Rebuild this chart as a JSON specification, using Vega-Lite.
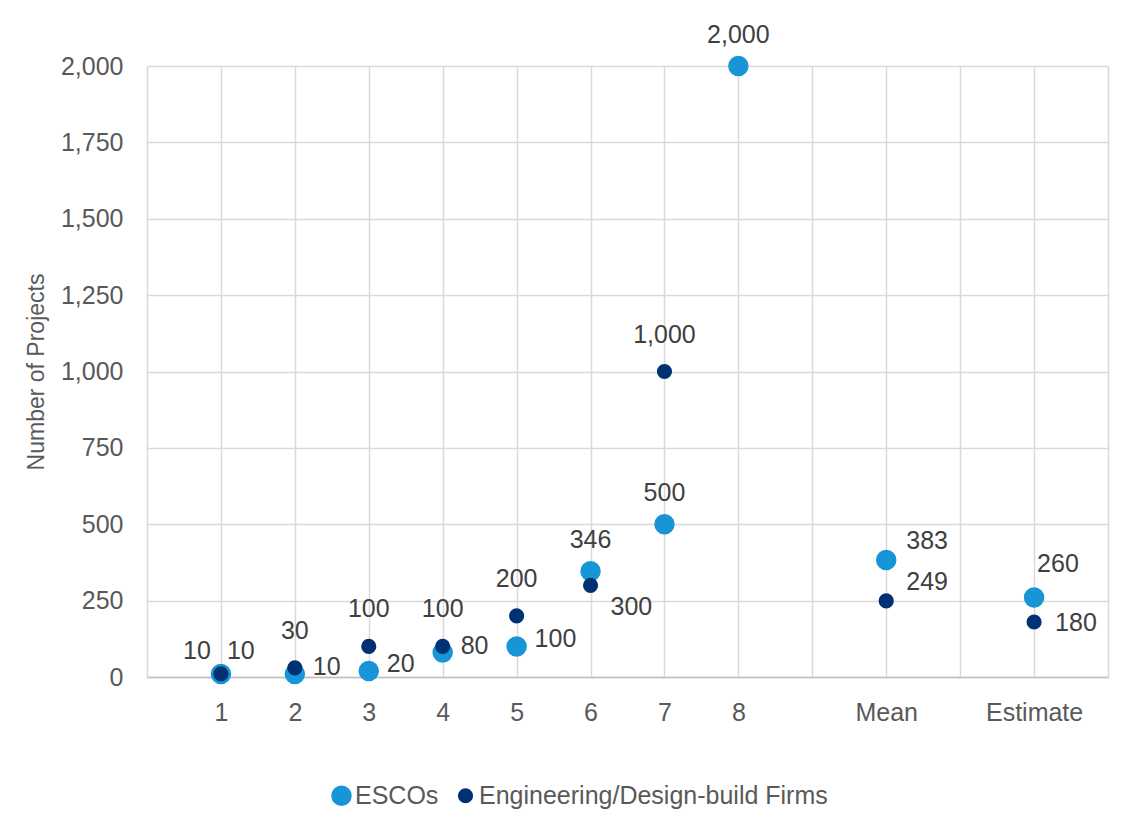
{
  "$schema": "https://vega.github.io/schema/vega-lite/v6.json",
  "width": 961,
  "height": 611,
  "autosize": "none",
  "padding": {"left": 147, "top": 66, "right": 29, "bottom": 150},
  "background": "white",
  "config": {
    "font": "Liberation Sans",
    "view": {"stroke": null},
    "axis": {"gridColor": "#d9d9d9", "gridWidth": 1.5, "labelColor": "#595959", "labelFontSize": 25, "titleColor": "#595959", "titleFontWeight": "normal", "ticks": false}
  },
  "data": {
    "values": [
      {"category": "1", "series": "ESCOs", "value": 10},
      {"category": "2", "series": "ESCOs", "value": 10},
      {"category": "3", "series": "ESCOs", "value": 20},
      {"category": "4", "series": "ESCOs", "value": 80},
      {"category": "5", "series": "ESCOs", "value": 100},
      {"category": "6", "series": "ESCOs", "value": 346},
      {"category": "7", "series": "ESCOs", "value": 500},
      {"category": "8", "series": "ESCOs", "value": 2000},
      {"category": "Mean", "series": "ESCOs", "value": 383},
      {"category": "Estimate", "series": "ESCOs", "value": 260},
      {"category": "1", "series": "Engineering/Design-build Firms", "value": 10},
      {"category": "2", "series": "Engineering/Design-build Firms", "value": 30},
      {"category": "3", "series": "Engineering/Design-build Firms", "value": 100},
      {"category": "4", "series": "Engineering/Design-build Firms", "value": 100},
      {"category": "5", "series": "Engineering/Design-build Firms", "value": 200},
      {"category": "6", "series": "Engineering/Design-build Firms", "value": 300},
      {"category": "7", "series": "Engineering/Design-build Firms", "value": 1000},
      {"category": "Mean", "series": "Engineering/Design-build Firms", "value": 249},
      {"category": "Estimate", "series": "Engineering/Design-build Firms", "value": 180}
    ]
  },
  "encoding": {
    "x": {
      "field": "category", "type": "ordinal",
      "scale": {"type": "point", "domain": ["_0", "1", "2", "3", "4", "5", "6", "7", "8", "_9", "Mean", "_11", "Estimate", "_13"], "padding": 0},
      "axis": {"title": null, "labelAngle": 0, "labelPadding": 23, "labelExpr": "indexof(datum.label, '_') == 0 ? '' : datum.label", "grid": true, "domainColor": "#bfbfbf", "domainWidth": 1.5}
    },
    "y": {
      "field": "value", "type": "quantitative",
      "scale": {"domain": [0, 2000], "nice": false},
      "axis": {"title": "Number of Projects", "titleFontSize": 23, "titlePadding": 12, "values": [0, 250, 500, 750, 1000, 1250, 1500, 1750, 2000], "format": ",.0f", "labelPadding": 24, "domain": false}
    }
  },
  "layer": [
    {
      "mark": {"type": "point", "filled": true, "opacity": 1},
      "encoding": {
        "color": {
          "field": "series", "type": "nominal",
          "scale": {"domain": ["ESCOs", "Engineering/Design-build Firms"], "range": ["#1795d6", "#003273"]},
          "legend": {"title": null, "orient": "none", "direction": "horizontal", "legendX": 182, "legendY": 717, "labelFontSize": 25, "labelColor": "#595959", "labelLimit": 500, "symbolType": "circle", "symbolSize": 230, "symbolStrokeWidth": 0, "columnPadding": 14, "labelOffset": 1}
        },
        "size": {
          "field": "series", "type": "nominal",
          "scale": {"domain": ["ESCOs", "Engineering/Design-build Firms"], "range": [420, 230]},
          "legend": null
        }
      }
    },
    {
      "transform": [{"filter": "datum.series == 'ESCOs' && indexof(['6','7','8'], datum.category) >= 0"}],
      "mark": {"type": "text", "fontSize": 25, "color": "#404040", "baseline": "middle", "align": "center", "dy": -31},
      "encoding": {"text": {"field": "value", "format": ",.0f"}}
    },
    {
      "transform": [{"filter": "datum.series != 'ESCOs' && indexof(['2','3','4','5','7'], datum.category) >= 0"}],
      "mark": {"type": "text", "fontSize": 25, "color": "#404040", "baseline": "middle", "align": "center", "dy": -37},
      "encoding": {"text": {"field": "value", "format": ",.0f"}}
    },
    {
      "transform": [{"filter": "datum.series == 'ESCOs' && indexof(['2','3','4','5'], datum.category) >= 0"}],
      "mark": {"type": "text", "fontSize": 25, "color": "#404040", "baseline": "middle", "align": "left", "dx": 18, "dy": -7},
      "encoding": {"text": {"field": "value", "format": ",.0f"}}
    },
    {
      "transform": [{"filter": "datum.series != 'ESCOs' && datum.category == 'Estimate'"}],
      "mark": {"type": "text", "fontSize": 25, "color": "#404040", "baseline": "middle", "align": "left", "dx": 21, "dy": 1},
      "encoding": {"text": {"field": "value", "format": ",.0f"}}
    },
    {
      "transform": [{"filter": "datum.series == 'ESCOs' && datum.category == '1'"}],
      "mark": {"type": "text", "fontSize": 25, "color": "#404040", "baseline": "middle", "align": "right", "dx": -10, "dy": -23},
      "encoding": {"text": {"field": "value", "format": ",.0f"}}
    },
    {
      "transform": [{"filter": "datum.series != 'ESCOs' && datum.category == '1'"}],
      "mark": {"type": "text", "fontSize": 25, "color": "#404040", "baseline": "middle", "align": "left", "dx": 6, "dy": -23},
      "encoding": {"text": {"field": "value", "format": ",.0f"}}
    },
    {
      "transform": [{"filter": "datum.series != 'ESCOs' && datum.category == '6'"}],
      "mark": {"type": "text", "fontSize": 25, "color": "#404040", "baseline": "middle", "align": "left", "dx": 20, "dy": 22},
      "encoding": {"text": {"field": "value", "format": ",.0f"}}
    },
    {
      "transform": [{"filter": "datum.category == 'Mean'"}],
      "mark": {"type": "text", "fontSize": 25, "color": "#404040", "baseline": "middle", "align": "left", "dx": 20, "dy": -19},
      "encoding": {"text": {"field": "value", "format": ",.0f"}}
    },
    {
      "transform": [{"filter": "datum.series == 'ESCOs' && datum.category == 'Estimate'"}],
      "mark": {"type": "text", "fontSize": 25, "color": "#404040", "baseline": "middle", "align": "left", "dx": 3, "dy": -34},
      "encoding": {"text": {"field": "value", "format": ",.0f"}}
    }
  ]
}
